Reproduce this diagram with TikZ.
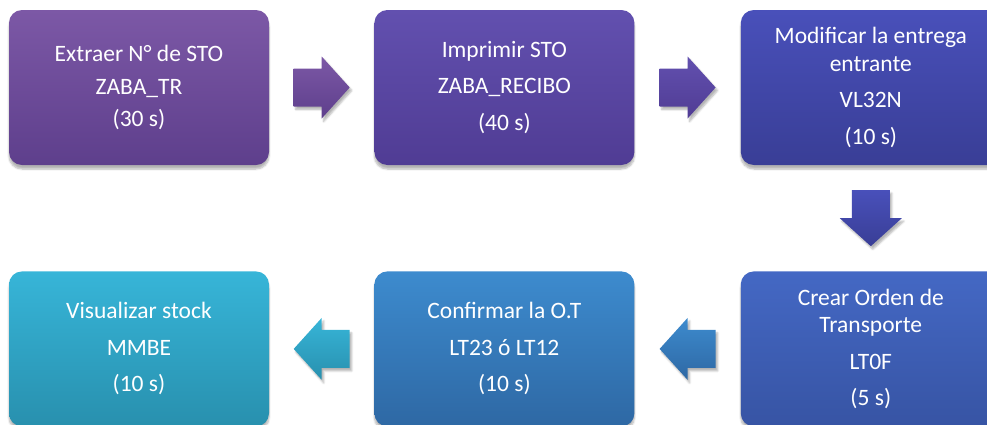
\documentclass[tikz,border=0pt]{standalone}
\usepackage{fontspec}
\setmainfont{Carlito}
\usepackage{tikz}
\usetikzlibrary{positioning,calc,shadows.blur}
\definecolor{stoA}{RGB}{124,88,166}
\definecolor{stoAd}{RGB}{94,63,140}
\definecolor{stoB}{RGB}{98,80,175}
\definecolor{stoBd}{RGB}{80,60,148}
\definecolor{stoC}{RGB}{73,80,186}
\definecolor{stoCd}{RGB}{57,62,150}
\definecolor{stoD}{RGB}{68,104,196}
\definecolor{stoDd}{RGB}{55,84,164}
\definecolor{stoE}{RGB}{61,139,206}
\definecolor{stoEd}{RGB}{46,104,164}
\definecolor{stoF}{RGB}{55,181,216}
\definecolor{stoFd}{RGB}{40,144,174}
\newcommand{\gap}{\\[9pt]}
\tikzset{
  stepbox/.style={rounded corners=13pt, minimum width=260pt, minimum height=155pt,
                  align=center, text=white, font=\fontsize{23.5}{27.5}\selectfont,
                  blur shadow={shadow xshift=0pt, shadow yshift=-4pt, shadow opacity=30, shadow blur steps=6}},
  flowarr/.style={blur shadow={shadow xshift=2pt, shadow yshift=-3pt, shadow opacity=30, shadow blur steps=5}},
}
\begin{document}
\begin{tikzpicture}[x=1pt,y=-1pt]
  \useasboundingbox (0,0) rectangle (987,424);
  % upper row
  \node[stepbox, top color=stoA, bottom color=stoAd] (sto) at (139,87.5)
    {Extraer N° de STO\\[5pt] ZABA\_TR\\[5pt] (30 s)};
  \node[stepbox, top color=stoB, bottom color=stoBd, right=105pt of sto] (recibo)
    {Imprimir STO\gap ZABA\_RECIBO\gap (40 s)};
  \node[stepbox, top color=stoC, bottom color=stoCd, right=106pt of recibo] (entrega)
    {Modificar la entrega\\entrante\gap VL32N\gap (10 s)};
  % lower row
  \node[stepbox, top color=stoD, bottom color=stoDd, below=106pt of entrega] (orden)
    {Crear Orden de\\Transporte\gap LT0F\gap (5 s)};
  \node[stepbox, top color=stoE, bottom color=stoEd, left=106pt of orden] (confirmar)
    {Confirmar la O.T\gap LT23 ó LT12\gap (10 s)};
  \node[stepbox, top color=stoF, bottom color=stoFd, left=105pt of confirmar] (stock)
    {Visualizar stock\gap MMBE\gap (10 s)};
  % block arrows (direction \dx/\dy, half length 28, shaft 19, head 31)
  \foreach \from/\to/\dx/\dy/\ca/\cb in {sto.east/recibo.west/1/0/stoA/stoAd,
                                         recibo.east/entrega.west/1/0/stoB/stoBd,
                                         entrega.south/orden.north/0/1/stoC/stoCd,
                                         orden.west/confirmar.east/-1/0/stoE/stoEd,
                                         confirmar.west/stock.east/-1/0/stoF/stoFd}{
    \coordinate (mid) at ($(\from)!0.5!(\to)$);
    \path[flowarr, top color=\ca, bottom color=\cb]
      ($(mid)+({-28*\dx+19*\dy},{-28*\dy-19*\dx})$)
      -- ($(mid)+({19*\dy},{-19*\dx})$)
      -- ($(mid)+({31*\dy},{-31*\dx})$)
      -- ($(mid)+({28*\dx},{28*\dy})$)
      -- ($(mid)+({-31*\dy},{31*\dx})$)
      -- ($(mid)+({-19*\dy},{19*\dx})$)
      -- ($(mid)+({-28*\dx-19*\dy},{-28*\dy+19*\dx})$)
      -- cycle;}
\end{tikzpicture}
\end{document}
